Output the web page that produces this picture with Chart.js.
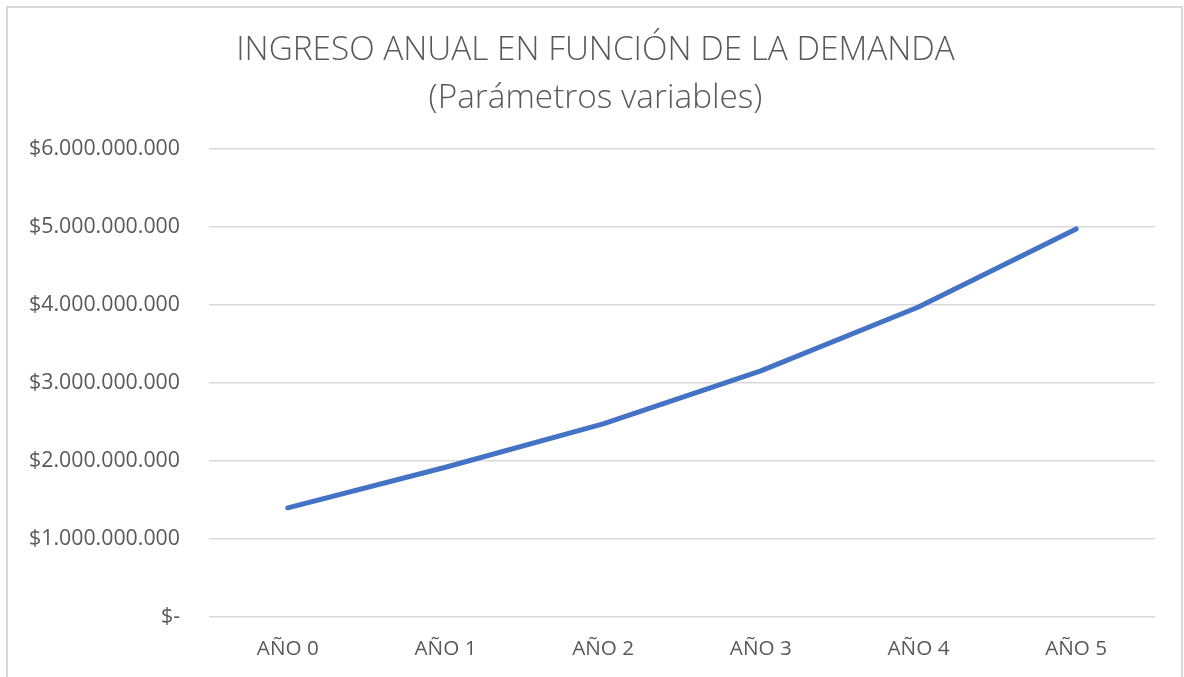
<!DOCTYPE html>
<html>
<head>
<meta charset="utf-8">
<script src="https://cdn.jsdelivr.net/npm/chart.js@4"></script>
<style>
  html, body { margin: 0; padding: 0; background: #ffffff; }
  #wrap { width: 1184px; height: 677px; position: relative; }
</style>
</head>
<body>
<div id="wrap"><canvas id="c" width="1184" height="677"></canvas></div>
<script>
const titleLines = ['INGRESO ANUAL EN FUNCIÓN DE LA DEMANDA', '(Parámetros variables)'];
const categories = ['AÑO 0', 'AÑO 1', 'AÑO 2', 'AÑO 3', 'AÑO 4', 'AÑO 5'];
const ingresoAnual = [1400000000, 1920000000, 2475000000, 3155000000, 3975000000, 4975000000];
const yTicks = [0, 1000000000, 2000000000, 3000000000, 4000000000, 5000000000, 6000000000];

const FONT = "'Open Sans', 'Noto Sans', sans-serif";
function fitSize(text, targetWidth, weight) {
  const m = document.createElement('canvas').getContext('2d');
  m.font = (weight || 'normal') + ' 100px ' + FONT;
  return 100 * targetWidth / m.measureText(text).width;
}
function fmt(v) {
  if (v === 0) return '$-';
  return '$' + Math.round(v).toString().replace(/\B(?=(\d{3})+(?!\d))/g, '.');
}

const titleSize = fitSize(titleLines[0], 719, '300');
const yTickSize = fitSize('$6.000.000.000', 151);
const xTickSize = fitSize('AÑO 0', 62);

const borderPlugin = {
  id: 'outerBorder',
  beforeDraw(chart) {
    const ctx = chart.ctx;
    ctx.save();
    ctx.fillStyle = '#ffffff';
    ctx.fillRect(0, 0, chart.width, chart.height);
    ctx.strokeStyle = '#d9d9d9';
    ctx.lineWidth = 2;
    ctx.strokeRect(7, 7, 1175, 700);
    ctx.restore();
  }
};

const titlePlugin = {
  id: 'chartTitle',
  afterDraw(chart) {
    const ctx = chart.ctx;
    ctx.save();
    ctx.fillStyle = '#595959';
    ctx.font = '300 ' + titleSize + 'px ' + FONT;
    ctx.textAlign = 'center';
    ctx.textBaseline = 'middle';
    const cx = 595.5;
    titleLines.forEach((t, i) => ctx.fillText(t, cx, 50 + i * 48));
    ctx.restore();
  }
};

new Chart(document.getElementById('c'), {
  type: 'line',
  data: {
    labels: categories,
    datasets: [{
      label: 'Ingreso anual',
      data: ingresoAnual,
      borderColor: '#4472C4',
      backgroundColor: '#4472C4',
      borderWidth: 5,
      borderCapStyle: 'round',
      borderJoinStyle: 'round',
      pointRadius: 0,
      tension: 0,
      fill: false
    }]
  },
  options: {
    responsive: false,
    animation: false,
    devicePixelRatio: 1,
    layout: { padding: { left: 0, right: 29, top: 149, bottom: 0 } },
    plugins: {
      legend: { display: false },
      tooltip: { enabled: false },
      title: { display: false }
    },
    scales: {
      x: {
        offset: true,
        grid: { display: false, drawTicks: false },
        border: { display: false },
        ticks: { color: '#595959', font: { family: FONT, size: xTickSize }, padding: 20, maxRotation: 0 },
        afterFit(scale) { scale.height = 60; }
      },
      y: {
        min: 0,
        max: 6000000000,
        afterBuildTicks(scale) { scale.ticks = yTicks.map(v => ({ value: v })); },
        grid: { color: '#d9d9d9', lineWidth: 1.5, drawTicks: false },
        border: { display: false },
        ticks: { color: '#595959', font: { family: FONT, size: yTickSize }, padding: 29, callback: v => fmt(v) },
        afterFit(scale) { scale.width = 209; }
      }
    }
  },
  plugins: [borderPlugin, titlePlugin]
});
</script>
</body>
</html>
